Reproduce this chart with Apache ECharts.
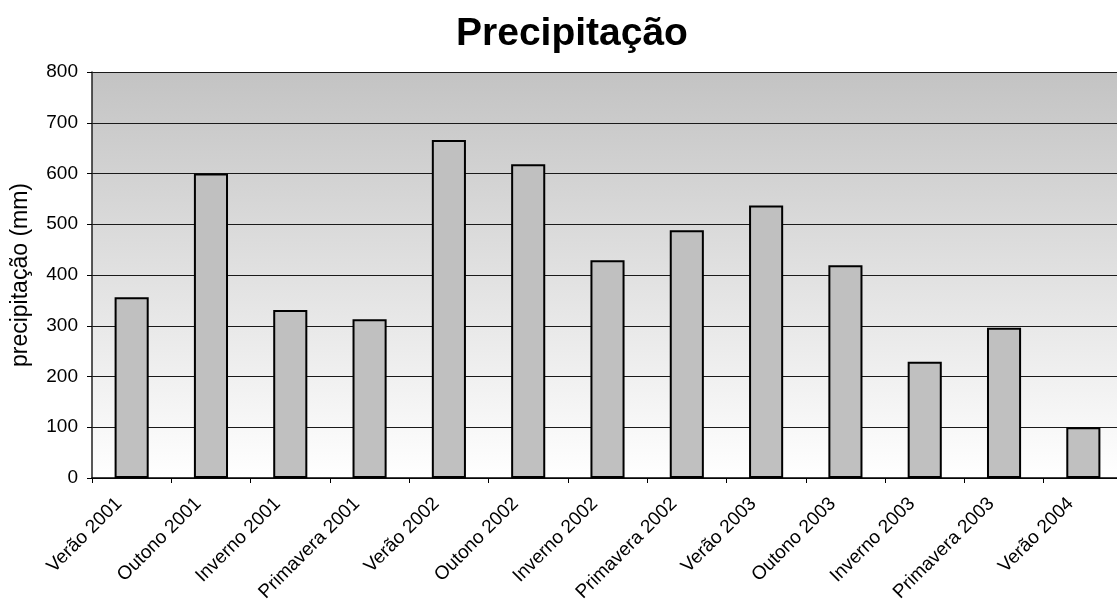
<!DOCTYPE html>
<html>
<head>
<meta charset="utf-8">
<script src="https://cdn.jsdelivr.net/npm/echarts@6/dist/echarts.min.js"></script>
<style>
  html, body { margin: 0; padding: 0; background: #ffffff; }
  #chart { width: 1117px; height: 603px; }
</style>
</head>
<body>
<div id="chart"></div>
<script>
// Seasonal precipitation totals (mm)
const seasons = [
  'Verão 2001', 'Outono 2001', 'Inverno 2001', 'Primavera 2001',
  'Verão 2002', 'Outono 2002', 'Inverno 2002', 'Primavera 2002',
  'Verão 2003', 'Outono 2003', 'Inverno 2003', 'Primavera 2003',
  'Verão 2004'
];
const precipitation = [356, 600, 331, 313, 666, 618, 429, 488, 537, 419, 229, 296, 100];

const chartTitle = 'Precipitação';
const yAxisName = 'precipitação (mm)';

const FONT = '"Liberation Sans", Arial, sans-serif';

const chart = echarts.init(document.getElementById('chart'));

chart.setOption({
  animation: false,
  backgroundColor: '#ffffff',
  title: {
    text: chartTitle,
    left: 451,
    top: 10,
    textStyle: { fontFamily: FONT, fontSize: 39, fontWeight: 'bold', color: '#000000' }
  },
  grid: {
    left: 92,
    top: 72,
    right: -6,
    bottom: 125,
    outerBoundsMode: 'none',
    containLabel: false,
    show: true,
    borderWidth: 0,
    backgroundColor: {
      type: 'linear', x: 0, y: 0, x2: 0, y2: 1,
      colorStops: [
        { offset: 0, color: '#c3c3c3' },
        { offset: 1, color: '#ffffff' }
      ]
    }
  },
  xAxis: {
    type: 'category',
    data: seasons,
    axisLine: { show: true, lineStyle: { color: '#000000', width: 1.5 } },
    axisTick: { show: true, length: 5, lineStyle: { color: '#000000' } },
    axisLabel: {
      rotate: 45,
      interval: 0,
      margin: 10,
      padding: [0, 18, 0, 0],
      fontFamily: FONT,
      fontSize: 19,
      color: '#000000'
    }
  },
  yAxis: {
    type: 'value',
    min: 0,
    max: 800,
    interval: 100,
    name: yAxisName,
    nameLocation: 'middle',
    nameGap: 60,
    nameTextStyle: { fontFamily: FONT, fontSize: 23, color: '#000000' },
    axisLine: { show: true, lineStyle: { color: '#222222', width: 1.5 } },
    axisTick: { show: true, length: 5, lineStyle: { color: '#000000' } },
    axisLabel: { margin: 14, fontFamily: FONT, fontSize: 19, color: '#000000' },
    splitLine: { show: true, lineStyle: { color: '#1a1a1a', width: 1.2 } }
  },
  series: [{
    type: 'bar',
    data: precipitation,
    barWidth: '43%',
    itemStyle: { color: '#c0c0c0', borderColor: '#000000', borderWidth: 2 }
  }]
});
</script>
</body>
</html>
